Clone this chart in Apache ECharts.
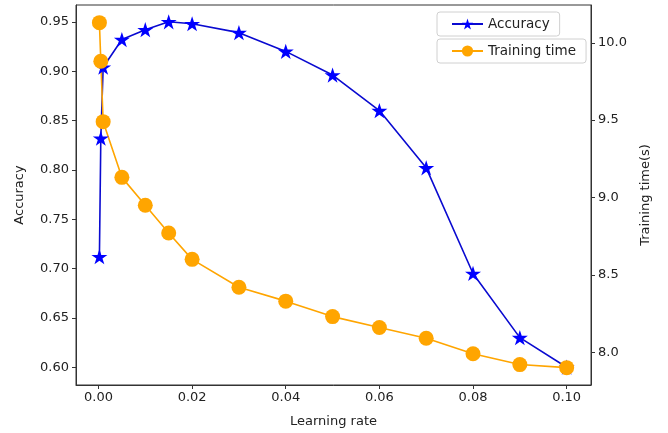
<!DOCTYPE html>
<html>
<head>
<meta charset="utf-8">
<script src="https://cdn.jsdelivr.net/npm/echarts@6/dist/echarts.min.js"></script>
<style>
html, body { margin: 0; padding: 0; background: #fff; }
#main { width: 668px; height: 433px; }
</style>
</head>
<body>
<div id="main"></div>
<script>
// learning rates on the x axis
var learningRates = [0.0002, 0.0005, 0.001, 0.005, 0.01, 0.015, 0.02, 0.03, 0.04, 0.05, 0.06, 0.07, 0.08, 0.09, 0.10];
// accuracy (left axis)
var accuracy = [0.712, 0.832, 0.904, 0.932, 0.942, 0.950, 0.948, 0.939, 0.920, 0.896, 0.860, 0.802, 0.695, 0.630, 0.600];
// training time in seconds (right axis)
var trainingTime = [10.13, 9.88, 9.49, 9.13, 8.95, 8.77, 8.60, 8.42, 8.33, 8.23, 8.16, 8.09, 7.99, 7.92, 7.90];

var xTicks = [0, 0.02, 0.04, 0.06, 0.08, 0.10];
var accTicks = [0.60, 0.65, 0.70, 0.75, 0.80, 0.85, 0.90, 0.95];
var timeTicks = [8.0, 8.5, 9.0, 9.5, 10.0];

var starPath = 'path://M100,0 L122.45,69.1 L195.1,69.1 L136.3,111.8 L158.8,180.9 L100,138.2 L41.2,180.9 L63.7,111.8 L4.9,69.1 L77.55,69.1 Z';

function pairs(xs, ys) {
    return xs.map(function(x, i) { return [x, ys[i]]; });
}

var font = 'DejaVu Sans';
var textColor = '#222';

var myChart = echarts.init(document.getElementById('main'), null, { renderer: 'canvas' });

// 图例样式，两个图例各自一个框
function legendBox(name, top) {
    return {
        data: [name],
        orient: 'vertical',
        left: 437, top: top,
        itemWidth: 31, itemHeight: 14, itemGap: 10,
        padding: [5, 10, 5, 14],
        borderColor: '#d0d0d0', borderWidth: 1, borderRadius: 3,
        textStyle: { fontFamily: font, fontSize: 13.5, color: textColor }
    };
}

function valueAxis(extra) {
    var axis = {
        type: 'value',
        nameLocation: 'middle',
        nameTextStyle: { fontFamily: font, fontSize: 13, color: textColor },
        axisLine: { show: true, onZero: false, lineStyle: { color: '#333' } },
        splitLine: { show: false }
    };
    for (var k in extra) axis[k] = extra[k];
    return axis;
}

var option = {
    animation: false,
    textStyle: { fontFamily: font },
    grid: {
        left: 76, right: 77, top: 5, bottom: 45,
        show: true, borderColor: '#333', borderWidth: 1, backgroundColor: 'transparent'
    },
    legend: [legendBox('Accuracy', 12), legendBox('Training time', 39)],
    xAxis: valueAxis({
        min: -0.0048, max: 0.1052,
        name: 'Learning rate',
        nameGap: 30,
        axisTick: { show: true, length: 4, customValues: xTicks, lineStyle: { color: '#333' } },
        axisLabel: {
            customValues: xTicks, margin: 6,
            fontFamily: font, fontSize: 13, color: textColor,
            formatter: function(v) { return v.toFixed(2); }
        }
    }),
    yAxis: [valueAxis({
        min: 0.582, max: 0.967,
        name: 'Accuracy',
        nameGap: 50,
        nameRotate: 90,
        axisTick: { show: true, length: 4, customValues: accTicks, lineStyle: { color: '#333' } },
        axisLabel: {
            customValues: accTicks, margin: 7,
            fontFamily: font, fontSize: 13, color: textColor,
            formatter: function(v) { return v.toFixed(2); }
        }
    }), valueAxis({
        position: 'right',
        min: 7.788, max: 10.244,
        name: 'Training time(s)',
        nameGap: 48,
        nameRotate: 90,
        axisTick: { show: true, length: 4, customValues: timeTicks, lineStyle: { color: '#333' } },
        axisLabel: {
            customValues: timeTicks, margin: 7,
            fontFamily: font, fontSize: 13, color: textColor,
            formatter: function(v) { return v.toFixed(1); }
        }
    })],
    series: [{
        name: 'Accuracy',
        type: 'line',
        yAxisIndex: 0,
        data: pairs(learningRates, accuracy),
        symbol: starPath,
        symbolKeepAspect: true,
        symbolSize: 16,
        showAllSymbol: true,
        color: '#0000ee',
        itemStyle: { color: '#0000ff' },
        lineStyle: { color: '#0a0ad0', width: 1.6 }
    }, {
        name: 'Training time',
        type: 'line',
        yAxisIndex: 1,
        data: pairs(learningRates, trainingTime),
        symbol: 'circle',
        symbolSize: 15,
        showAllSymbol: true,
        color: '#ffa500',
        itemStyle: { color: '#ffa500' },
        lineStyle: { color: '#ffa500', width: 1.6 }
    }]
};

myChart.setOption(option);
</script>
</body>
</html>
